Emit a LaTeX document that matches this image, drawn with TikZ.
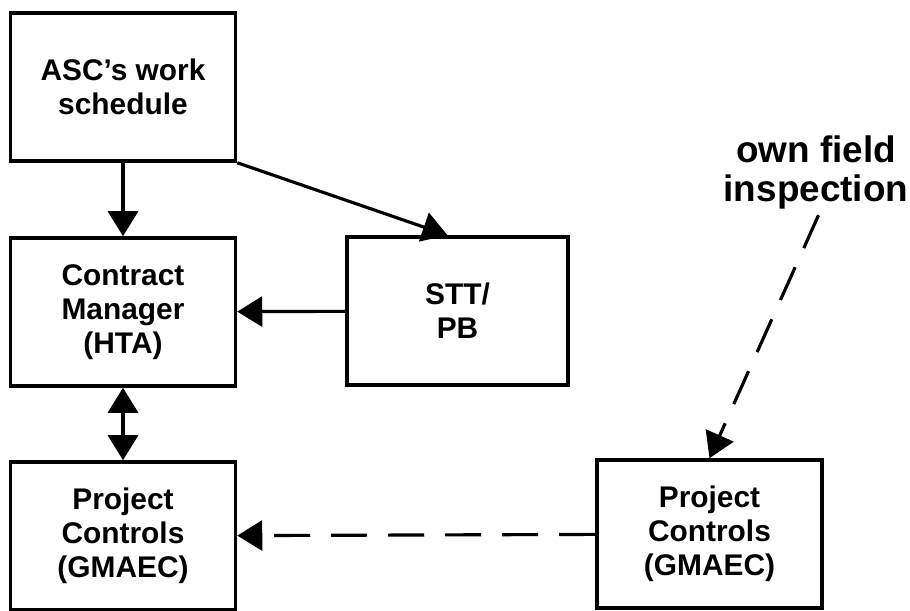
\documentclass[tikz,border=0pt]{standalone}
\usepackage{fontspec}
\setmainfont{Liberation Sans}
\usepackage{tikz}
\usetikzlibrary{arrows.meta, positioning}

\begin{document}
\begin{tikzpicture}[
    box/.style={rectangle, draw=black, line width=2pt, minimum width=4.5cm, minimum height=2.96cm, align=center, font=\fontsize{17}{19.5}\selectfont\bfseries},
    arrow/.style={-{Triangle[length=0.5cm, width=0.6cm]}, line width=1.8pt},
    dasharrow/.style={arrow, dash pattern=on 0.72cm off 0.42cm}
]
    \useasboundingbox (0,0) rectangle (18.2,-12.22);
    % Boxes
    \node[box] (asc) at (2.46,-1.74) {ASC's work\\schedule};
    \node[box] (manager) at (2.46,-6.24) {Contract\\Manager\\(HTA)};
    \node[box, minimum width=4.42cm] (sttpb) at (9.15,-6.22) {STT/\\PB};
    \node[box] (controls) at (2.46,-10.72) {Project\\Controls\\(GMAEC)};
    \node[box] (fieldcontrols) at (14.19,-10.68) {Project\\Controls\\(GMAEC)};
    \node[align=center, font=\fontsize{21}{22}\selectfont\bfseries] (inspection) at (16.32,-3.45) {own field\\inspection};

    % Arrows
    \draw[arrow] (asc) -- (manager);
    \draw[arrow] (asc.south east) -- ([xshift=-0.2cm]sttpb.north);
    \draw[arrow] (sttpb) -- (manager);
    \draw[arrow, {Triangle[length=0.5cm, width=0.6cm]}-{Triangle[length=0.5cm, width=0.6cm]}] (manager) -- (controls);
    \draw[dasharrow] (fieldcontrols) -- (controls);
    \draw[dasharrow] ([xshift=0.05cm]inspection.south) -- (fieldcontrols.north);

\end{tikzpicture}
\end{document}
